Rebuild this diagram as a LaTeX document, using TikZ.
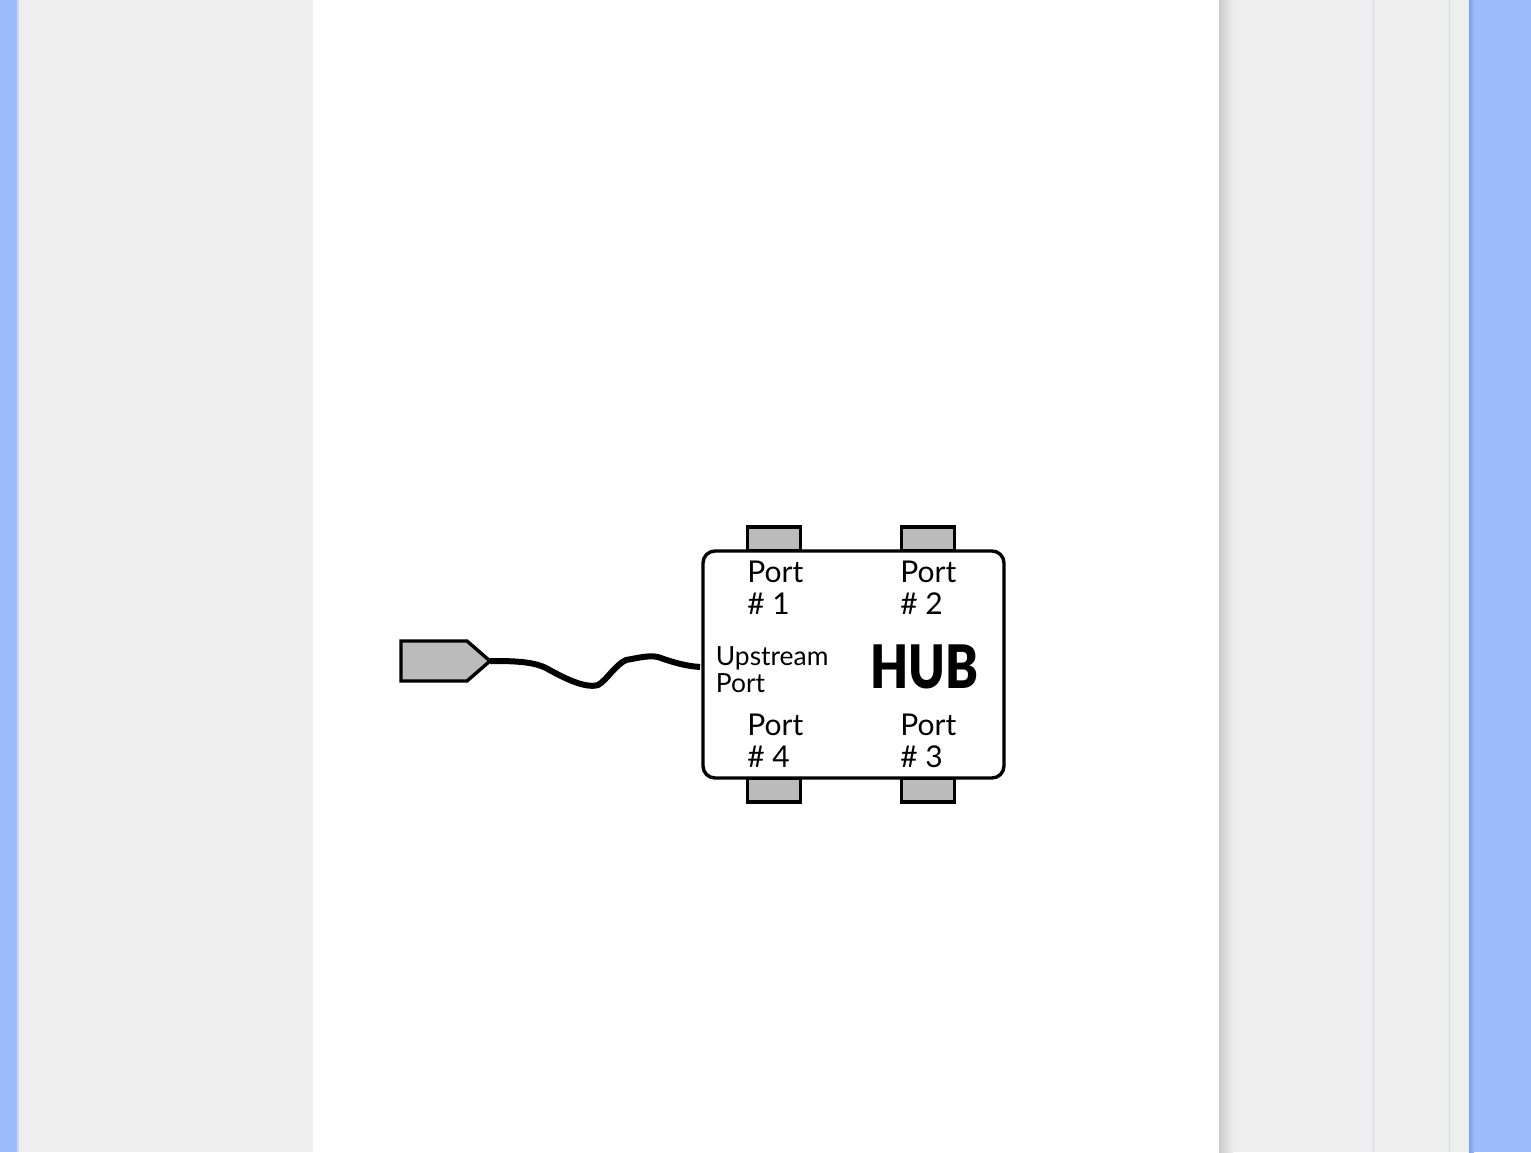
\documentclass[tikz,border=0pt]{standalone}
\usepackage{fontspec}
\setmainfont{Lato}
\newfontfamily\hubfont{Lato Black}
\usetikzlibrary{shapes.symbols}
\definecolor{pageblue}{HTML}{9BBCF9}
\definecolor{edgeblue}{HTML}{7F9FEA}
\definecolor{panelgrey}{HTML}{EEEEEE}
\definecolor{tabgrey}{HTML}{BBBBBB}
\definecolor{rulegrey}{HTML}{D3DAE8}
\begin{document}
\begin{tikzpicture}[
  x=0.5pt, y=-0.5pt, font=\fontsize{15}{16}\selectfont,
  tabbox/.style={draw,line width=1.7pt,fill=tabgrey,minimum width=26.5pt,minimum height=12pt,inner sep=0pt,outer sep=0pt},
  portlab/.style={align=left,anchor=west,inner sep=0pt,font=\fontsize{15}{16}\selectfont},
  cable/.style={line width=3pt}]
\useasboundingbox (0,0) rectangle (1531,1152);
% page background
\fill[panelgrey] (0,0) rectangle (1531,1152);
\fill[pageblue] (0,0) rectangle (17,1152);
\fill[pageblue!40!panelgrey] (17,0) rectangle (19,1152);
\fill[white] (313,0) rectangle (1219,1152);
\shade[left color=black!14!panelgrey,right color=panelgrey] (1219,0) rectangle (1233,1152);
\fill[rulegrey] (1373,0) rectangle (1374,1152);
\fill[rulegrey] (1449,0) rectangle (1450,1152);
\fill[pageblue] (1470,0) rectangle (1531,1152);
\shade[left color=edgeblue,right color=pageblue] (1469,0) rectangle (1474,1152);
% ports
\foreach \nm/\px/\py in {tabone/774/539,tabtwo/928/539,tabthree/928/790,tabfour/774/790}
  \node[tabbox] (\nm) at (\px,\py) {};
\node[draw,line width=1.7pt,fill=white,rounded corners=6pt,minimum width=150.5pt,minimum height=113.5pt,inner sep=0pt,outer sep=0pt] (hub) at (853.5,664.5) {};
\node[portlab] (lone) at (747,588) {Port\\\# 1};
\node[portlab] (ltwo) at (900,588) {Port\\\# 2};
\node[portlab] (lthree) at (900,741) {Port\\\# 3};
\node[portlab] (lfour) at (747,741) {Port\\\# 4};
\node[portlab,font=\fontsize{13.2}{13.5}\selectfont] (lup) at (715.5,670) {Upstream\\Port};
\node[inner sep=0pt,font=\fontsize{30}{30}\selectfont\hubfont] (hubname) at (924.5,667) {\scalebox{0.82}[1]{HUB}};
% plug and cable
\node[shape=signal,signal to=east,signal pointer angle=82,draw,line width=1.7pt,fill=tabgrey,minimum width=44.5pt,minimum height=20pt,inner sep=0pt,outer sep=0pt] (plug) at (434,661) {};
\coordinate (upin) at (700,667);
\draw[cable] (plug.east) .. controls (510,661) and (532,661) .. (546,668)
  .. controls (562,677) and (585,689) .. (598,685)
  .. controls (607,680) and (615,665) .. (626,660)
  .. controls (638,658) and (648,655) .. (658,657)
  .. controls (672,662) and (685,666) .. (upin);
\end{tikzpicture}
\end{document}
